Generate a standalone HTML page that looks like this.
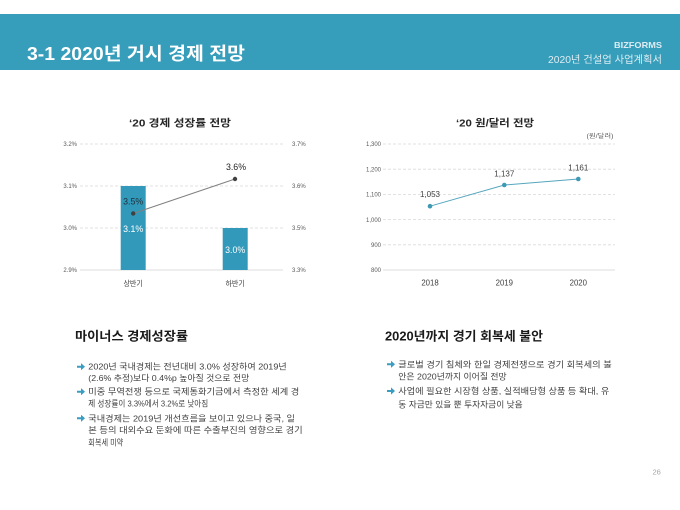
<!DOCTYPE html>
<html><head><meta charset="utf-8"><style>
html,body{margin:0;padding:0;background:#fff;}
svg{display:block;}
text{font-family:"Liberation Sans","Noto Sans CJK KR",sans-serif;}
</style></head><body>
<svg width="680" height="510" viewBox="0 0 680 510" xmlns="http://www.w3.org/2000/svg">
<rect x="0" y="0" width="680" height="510" fill="#fff"/>
<!-- header -->
<rect x="0" y="14" width="680" height="56" fill="#369dba"/>
<text x="27" y="60" font-size="18" font-weight="bold" fill="#fff" textLength="218" lengthAdjust="spacingAndGlyphs">3-1 2020년 거시 경제 전망</text>
<text x="614" y="48" font-size="8.5" font-weight="bold" fill="#deedf3" textLength="48" lengthAdjust="spacingAndGlyphs">BIZFORMS</text>
<text x="548" y="63" font-size="10" fill="#deedf3" textLength="114" lengthAdjust="spacingAndGlyphs">2020년 건설업 사업계획서</text>

<!-- left chart -->
<text x="180" y="126.5" font-size="10" font-weight="bold" fill="#262626" text-anchor="middle" textLength="102" lengthAdjust="spacingAndGlyphs">‘20 경제 성장률 전망</text>
<g stroke="#d9d9d9" stroke-width="0.8" stroke-dasharray="3,2">
<line x1="80" y1="144" x2="283" y2="144"/>
<line x1="80" y1="186" x2="283" y2="186"/>
<line x1="80" y1="228" x2="283" y2="228"/>
</g>
<line x1="80" y1="270" x2="283" y2="270" stroke="#d0d0d0" stroke-width="0.8"/>
<g font-size="6" fill="#595959" text-anchor="end">
<text x="77" y="146.2">3.2%</text>
<text x="77" y="188.2">3.1%</text>
<text x="77" y="230.2">3.0%</text>
<text x="77" y="272.2">2.9%</text>
</g>
<g font-size="6" fill="#595959">
<text x="292" y="146.2">3.7%</text>
<text x="292" y="188.2">3.6%</text>
<text x="292" y="230.2">3.5%</text>
<text x="292" y="272.2">3.3%</text>
</g>
<rect x="120.7" y="186" width="25" height="84" fill="#3399ba"/>
<rect x="222.7" y="228" width="25" height="42" fill="#3399ba"/>
<line x1="133.2" y1="213.5" x2="235" y2="179" stroke="#808080" stroke-width="1"/>
<circle cx="133.2" cy="213.5" r="2.2" fill="#404040"/>
<circle cx="235" cy="179" r="2.2" fill="#404040"/>
<g font-size="8.8" text-anchor="middle">
<text x="133.2" y="204.7" fill="#1f2f3a">3.5%</text>
<text x="236" y="170" fill="#262626">3.6%</text>
<text x="133.2" y="232.2" fill="#fff">3.1%</text>
<text x="235.2" y="253.2" fill="#fff">3.0%</text>
</g>
<g font-size="7.5" fill="#404040" text-anchor="middle">
<text x="133.2" y="286" textLength="19.5" lengthAdjust="spacingAndGlyphs">상반기</text>
<text x="235.2" y="286" textLength="19.5" lengthAdjust="spacingAndGlyphs">하반기</text>
</g>

<!-- right chart -->
<text x="495" y="126.5" font-size="10" font-weight="bold" fill="#262626" text-anchor="middle" textLength="78" lengthAdjust="spacingAndGlyphs">‘20 원/달러 전망</text>
<text x="600" y="138" font-size="6" fill="#595959" text-anchor="middle" textLength="27" lengthAdjust="spacingAndGlyphs">(원/달러)</text>
<g stroke="#d9d9d9" stroke-width="0.8" stroke-dasharray="3,2">
<line x1="383" y1="144" x2="615" y2="144"/>
<line x1="383" y1="169.2" x2="615" y2="169.2"/>
<line x1="383" y1="194.4" x2="615" y2="194.4"/>
<line x1="383" y1="219.6" x2="615" y2="219.6"/>
<line x1="383" y1="244.8" x2="615" y2="244.8"/>
</g>
<line x1="383" y1="270" x2="615" y2="270" stroke="#d0d0d0" stroke-width="0.8"/>
<g font-size="6" fill="#595959" text-anchor="end">
<text x="381" y="146.2">1,300</text>
<text x="381" y="171.4">1,200</text>
<text x="381" y="196.6">1,100</text>
<text x="381" y="221.8">1,000</text>
<text x="381" y="247">900</text>
<text x="381" y="272.2">800</text>
</g>
<polyline points="430,206.2 504.3,185 578.3,179" fill="none" stroke="#55a6bd" stroke-width="1"/>
<circle cx="430" cy="206.2" r="2.3" fill="#3e99b4"/>
<circle cx="504.3" cy="185" r="2.3" fill="#3e99b4"/>
<circle cx="578.3" cy="179" r="2.3" fill="#3e99b4"/>
<g font-size="8" fill="#404040" text-anchor="middle">
<text x="430" y="197">1,053</text>
<text x="504.3" y="176.3">1,137</text>
<text x="578.3" y="170.3">1,161</text>
</g>
<g font-size="7.8" fill="#404040" text-anchor="middle">
<text x="430" y="285.5">2018</text>
<text x="504.3" y="285.5">2019</text>
<text x="578.3" y="285.5">2020</text>
</g>

<!-- section headings -->
<text x="75" y="340.7" font-size="12.5" font-weight="bold" fill="#1a1a1a" textLength="113" lengthAdjust="spacingAndGlyphs">마이너스 경제성장률</text>
<text x="385" y="340.7" font-size="12.5" font-weight="bold" fill="#1a1a1a" textLength="158" lengthAdjust="spacingAndGlyphs">2020년까지 경기 회복세 불안</text>

<!-- arrows -->
<g fill="#3a9cc0">
<path d="M77,365.7 h4 v-2.6 l4,3.6 l-4,3.6 v-2.6 h-4 z"/>
<path d="M77,390.7 h4 v-2.6 l4,3.6 l-4,3.6 v-2.6 h-4 z"/>
<path d="M77,417.3 h4 v-2.6 l4,3.6 l-4,3.6 v-2.6 h-4 z"/>
<path d="M387,363.3 h4 v-2.6 l4,3.6 l-4,3.6 v-2.6 h-4 z"/>
<path d="M387,390 h4 v-2.6 l4,3.6 l-4,3.6 v-2.6 h-4 z"/>
</g>

<!-- left bullets -->
<g font-size="8.3" fill="#404040">
<text x="88.3" y="369.7" textLength="198.4" lengthAdjust="spacingAndGlyphs">2020년 국내경제는 전년대비 3.0% 성장하여 2019년</text>
<text x="88.3" y="381" textLength="161" lengthAdjust="spacingAndGlyphs">(2.6% 추정)보다 0.4%p 높아질 것으로 전망</text>
<text x="88.3" y="394.7" textLength="211" lengthAdjust="spacingAndGlyphs">미중 무역전쟁 등으로 국제통화기금에서 측정한 세계 경</text>
<text x="88.3" y="406.3" textLength="120" lengthAdjust="spacingAndGlyphs">제 성장률이 3.3%에서 3.2%로 낮아짐</text>
<text x="88.3" y="421.3" textLength="206.7" lengthAdjust="spacingAndGlyphs">국내경제는 2019년 개선흐름을 보이고 있으나 중국, 일</text>
<text x="88.3" y="433" textLength="214.4" lengthAdjust="spacingAndGlyphs">본 등의 대외수요 둔화에 따른 수출부진의 영향으로 경기</text>
<text x="88.3" y="445.7" textLength="35" lengthAdjust="spacingAndGlyphs">회복세 미약</text>
</g>

<!-- right bullets -->
<g font-size="8.3" fill="#404040">
<text x="398.3" y="367.3" textLength="213.4" lengthAdjust="spacingAndGlyphs">글로벌 경기 침체와 한일 경제전쟁으로 경기 회복세의 불</text>
<text x="398.3" y="379.7" textLength="108.4" lengthAdjust="spacingAndGlyphs">안은 2020년까지 이어질 전망</text>
<text x="398.3" y="394" textLength="211" lengthAdjust="spacingAndGlyphs">사업에 필요한 시장형 상품, 실적배당형 상품 등 확대, 유</text>
<text x="398.3" y="407.3" textLength="124.4" lengthAdjust="spacingAndGlyphs">동 자금만 있을 뿐 투자자금이 낮음</text>
</g>

<!-- page number -->
<text x="656.7" y="474.5" font-size="7.5" fill="#a6a6a6" text-anchor="middle">26</text>
</svg>
</body></html>
